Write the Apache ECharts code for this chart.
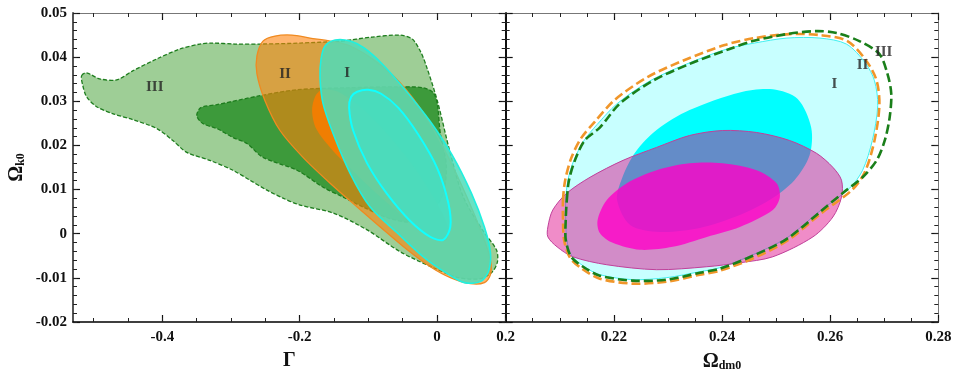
<!DOCTYPE html>
<html>
<head>
<meta charset="utf-8">
<script src="https://cdn.jsdelivr.net/npm/echarts@6/dist/echarts.min.js"></script>
<style>
  html, body { margin: 0; padding: 0; background: #fff; }
  #chart { width: 957px; height: 382px; }
</style>
</head>
<body>
<div id="chart"></div>
<script>
// ---- tick labels ----
var gammaLabels = [-0.4, -0.2, 0];
var omegaDmLabels = [0.2, 0.22, 0.24, 0.26, 0.28];
var omegaKLabels = [-0.02, -0.01, 0, 0.01, 0.02, 0.03, 0.04, 0.05];

// ---- left panel contours (Gamma, Omega_k0) ----
var left3Outer = [[-0.5175,0.03576],[-0.5102,0.03644],[-0.4913,0.03509],[-0.4664,0.03486],[-0.4431,0.03689],
  [-0.4081,0.03959],[-0.3745,0.04184],[-0.3453,0.04297],[-0.3278,0.04319],[-0.2943,0.04297],[-0.2549,0.04297],
  [-0.1994,0.04319],[-0.1411,0.04364],[-0.0944,0.04454],[-0.0535,0.04499],[-0.0360,0.04409],[-0.0244,0.04139],
  [-0.0156,0.03801],[0.0004,0.03013],[0.0194,0.01820],[0.0384,0.00829],[0.0661,0.00086],[0.0865,-0.00365],
  [0.0880,-0.00635],[0.0807,-0.00860],[0.0632,-0.01018],[0.0311,-0.00995],[-0.0054,-0.00770],[-0.0535,-0.00410],
  [-0.1017,0.00086],[-0.1513,0.00468],[-0.1994,0.00649],[-0.2243,0.00806],[-0.2476,0.00986],[-0.2724,0.01212],
  [-0.2972,0.01437],[-0.3308,0.01662],[-0.3643,0.01842],[-0.3847,0.02112],[-0.4081,0.02383],[-0.4431,0.02585],
  [-0.4723,0.02720],[-0.4956,0.02878],[-0.5102,0.03103],[-0.5160,0.03374]];
var left3Inner = [[-0.3497,0.02675],[-0.3439,0.02856],[-0.3205,0.02923],[-0.2578,0.03126],[-0.2038,0.03261],
  [-0.1309,0.03306],[-0.0579,0.03328],[-0.0200,0.03306],[-0.0054,0.03193],[0.0004,0.02946],[0.0048,0.02270],
  [0.0136,0.01549],[0.0092,0.00941],[-0.0069,0.00491],[-0.0360,0.00266],[-0.0711,0.00356],[-0.1075,0.00604],
  [-0.1367,0.00829],[-0.1659,0.01054],[-0.2038,0.01437],[-0.2534,0.01730],[-0.2768,0.02045],[-0.2972,0.02180],
  [-0.3205,0.02383],[-0.3410,0.02495]];
var left2Outer = [[-0.2534,0.04364],[-0.2359,0.04477],[-0.2111,0.04499],[-0.1849,0.04432],[-0.1557,0.04364],
  [-0.1265,0.04252],[-0.0900,0.03914],[-0.0535,0.03418],[-0.0171,0.02675],[0.0150,0.01775],[0.0442,0.00806],
  [0.0661,-0.00027],[0.0778,-0.00590],[0.0778,-0.00928],[0.0690,-0.01108],[0.0486,-0.01131],[0.0194,-0.00995],
  [-0.0098,-0.00748],[-0.0433,-0.00365],[-0.0827,0.00153],[-0.1163,0.00604],[-0.1557,0.01144],[-0.1951,0.01730],
  [-0.2286,0.02338],[-0.2505,0.03013],[-0.2622,0.03621],[-0.2622,0.04027]];
var left2Inner = [[-0.1674,0.03261],[-0.1411,0.03193],[-0.0973,0.02675],[-0.0463,0.01775],[-0.0069,0.00874],
  [0.0150,0.00198],[0.0136,-0.00140],[-0.0069,-0.00095],[-0.0463,0.00356],[-0.0900,0.00941],[-0.1265,0.01482],
  [-0.1557,0.01955],[-0.1761,0.02383],[-0.1819,0.02788],[-0.1776,0.03103]];
var left1Outer = [[-0.1630,0.04252],[-0.1484,0.04387],[-0.1265,0.04364],[-0.1061,0.04207],[-0.0798,0.03846],
  [-0.0477,0.03283],[-0.0098,0.02540],[0.0223,0.01775],[0.0500,0.00919],[0.0690,0.00153],[0.0778,-0.00432],
  [0.0748,-0.00860],[0.0632,-0.01085],[0.0398,-0.01108],[0.0150,-0.00905],[-0.0200,-0.00522],[-0.0579,0.00018],
  [-0.0973,0.00604],[-0.1265,0.01369],[-0.1513,0.02270],[-0.1659,0.02946],[-0.1703,0.03531],[-0.1688,0.03959]];
var left1Inner = [[-0.1163,0.03216],[-0.1002,0.03261],[-0.0813,0.03171],[-0.0565,0.02856],[-0.0273,0.02247],
  [0.0004,0.01482],[0.0165,0.00694],[0.0194,0.00153],[0.0092,-0.00140],[-0.0098,-0.00072],[-0.0390,0.00288],
  [-0.0725,0.00896],[-0.1017,0.01594],[-0.1221,0.02338],[-0.1280,0.02856],[-0.1250,0.03103]];

// ---- right panel contours (Omega_dm0, Omega_k0) ----
var right1Outer = [[0.2111,0.00761],[0.2115,0.01212],[0.2126,0.01662],[0.2145,0.02112],[0.2169,0.02473],
  [0.2206,0.02946],[0.2267,0.03464],[0.2335,0.03846],[0.2409,0.04184],[0.2460,0.04319],[0.2520,0.04432],
  [0.2581,0.04432],[0.2630,0.04297],[0.2665,0.03869],[0.2682,0.03464],[0.2688,0.02901],[0.2678,0.02112],
  [0.2660,0.01437],[0.2636,0.01031],[0.2581,0.00513],[0.2520,-0.00095],[0.2457,-0.00477],[0.2396,-0.00770],
  [0.2359,-0.00860],[0.2298,-0.00995],[0.2235,-0.01040],[0.2174,-0.00928],[0.2143,-0.00725],[0.2122,-0.00500],
  [0.2113,-0.00140],[0.2111,0.00311]];
var right1Inner = [[0.2206,0.00761],[0.2215,0.01250],[0.2240,0.01850],[0.2279,0.02350],[0.2340,0.02800],
  [0.2433,0.03200],[0.2494,0.03270],[0.2540,0.03050],[0.2565,0.02400],[0.2562,0.01775],[0.2534,0.01212],
  [0.2488,0.00761],[0.2433,0.00423],[0.2359,0.00131],[0.2285,0.00041],[0.2230,0.00198]];
var right2Outer = [[0.2106,0.00761],[0.2110,0.01212],[0.2121,0.01707],[0.2139,0.02157],[0.2165,0.02540],
  [0.2202,0.03036],[0.2263,0.03554],[0.2331,0.03936],[0.2405,0.04274],[0.2460,0.04432],[0.2525,0.04522],
  [0.2581,0.04499],[0.2632,0.04364],[0.2667,0.03914],[0.2686,0.03464],[0.2691,0.02901],[0.2682,0.02112],
  [0.2664,0.01392],[0.2640,0.00986],[0.2584,0.00468],[0.2523,-0.00140],[0.2460,-0.00545],[0.2396,-0.00838],
  [0.2359,-0.00928],[0.2298,-0.01085],[0.2235,-0.01131],[0.2174,-0.01018],[0.2141,-0.00793],[0.2119,-0.00545],
  [0.2108,-0.00140],[0.2106,0.00311]];
var right3Outer = [[0.2113,0.00761],[0.2117,0.01212],[0.2128,0.01662],[0.2146,0.02112],[0.2174,0.02405],
  [0.2211,0.02946],[0.2272,0.03464],[0.2340,0.03846],[0.2414,0.04184],[0.2457,0.04364],[0.2520,0.04522],
  [0.2575,0.04590],[0.2612,0.04545],[0.2654,0.04364],[0.2691,0.04072],[0.2706,0.03621],[0.2713,0.03171],
  [0.2710,0.02630],[0.2701,0.02112],[0.2686,0.01662],[0.2660,0.01279],[0.2623,0.00919],[0.2581,0.00491],
  [0.2520,-0.00117],[0.2457,-0.00500],[0.2396,-0.00793],[0.2359,-0.00883],[0.2298,-0.01040],[0.2235,-0.01063],
  [0.2174,-0.00950],[0.2143,-0.00748],[0.2121,-0.00522],[0.2111,-0.00140],[0.2111,0.00311]];
var rightPinkOuter = [[0.2078,0.00153],[0.2087,0.00536],[0.2113,0.00919],[0.2156,0.01279],[0.2217,0.01662],
  [0.2279,0.01955],[0.2340,0.02225],[0.2401,0.02338],[0.2464,0.02293],[0.2525,0.02112],[0.2575,0.01820],
  [0.2605,0.01504],[0.2621,0.01212],[0.2621,0.00829],[0.2605,0.00378],[0.2568,-0.00072],[0.2494,-0.00522],
  [0.2433,-0.00658],[0.2372,-0.00748],[0.2279,-0.00815],[0.2187,-0.00703],[0.2124,-0.00522],[0.2095,-0.00297],
  [0.2078,-0.00072]];
var rightPinkInner = [[0.2170,0.00311],[0.2187,0.00761],[0.2224,0.01144],[0.2279,0.01437],[0.2340,0.01594],
  [0.2401,0.01594],[0.2464,0.01437],[0.2501,0.01144],[0.2507,0.00829],[0.2494,0.00536],[0.2433,0.00153],
  [0.2372,-0.00072],[0.2309,-0.00297],[0.2248,-0.00365],[0.2198,-0.00207],[0.2174,0.00018]];

// region labels [x, y, text]
var leftTags = [[-0.411, 0.0331, 'III'], [-0.2213, 0.0362, 'II'], [-0.1309, 0.0364, 'I']];
var rightTags = [[0.2608, 0.0340, 'I'], [0.2660, 0.0382, 'II'], [0.2699, 0.0412, 'III']];

var FONT = 'Liberation Serif';
var AX = '#333';

function steps(a, b, d) {
  var out = [];
  var n = Math.round((b - a) / d);
  for (var i = 0; i <= n; i++) out.push(+(a + i * d).toFixed(4));
  return out;
}
function fmt(v) { return String(+(+v).toFixed(3)); }

// one frame side: major ticks (optionally labelled) + a minor tick overlay
function side(grid, pos, min, max, major, minor, opts) {
  opts = opts || {};
  var base = {
    gridIndex: grid, position: pos, type: 'value', min: min, max: max,
    splitLine: { show: false }
  };
  var a = Object.assign({}, base, {
    axisLine: { show: true, onZero: false, lineStyle: { color: opts.lineColor || AX, width: opts.lineWidth || 1.5 } },
    axisTick: { show: true, inside: true, length: 7, customValues: major, lineStyle: { color: '#111', width: 1.2 } },
    axisLabel: opts.labels ? {
      show: true, customValues: major, formatter: fmt, margin: opts.margin || 8,
      fontFamily: FONT, fontWeight: 'bold', fontSize: 15, color: '#111'
    } : { show: false }
  });
  if (opts.name) {
    a.name = opts.name;
    a.nameLocation = 'middle';
    a.nameGap = opts.nameGap;
    a.nameRotate = opts.nameRotate;
    a.nameTextStyle = opts.nameTextStyle;
  }
  var b = Object.assign({}, base, {
    axisLine: { show: false, onZero: false },
    axisTick: { show: true, inside: true, length: 4, customValues: minor, lineStyle: { color: '#222', width: 1 } },
    axisLabel: { show: false }
  });
  return [a, b];
}

var omegaRich = {
  o: { fontFamily: FONT, fontWeight: 'bold', fontSize: 20, color: '#111' },
  s: { fontFamily: FONT, fontWeight: 'bold', fontSize: 12, color: '#111', padding: [9, 0, 0, 0] }
};

var gammaMinor = steps(-0.5, 0.1, 0.05);
var dmMinor = steps(0.2, 0.28, 0.005);
var kMinor = steps(-0.02, 0.05, 0.002);

var xAxes = [].concat(
  side(0, 'bottom', -0.53, 0.1, gammaLabels, gammaMinor, {
    labels: true, lineColor: '#000', name: 'Γ', nameGap: 29,
    nameTextStyle: { fontFamily: FONT, fontWeight: 'bold', fontSize: 20, color: '#111' }
  }),
  side(0, 'top', -0.53, 0.1, gammaLabels, gammaMinor, { lineColor: '#777', lineWidth: 1 }),
  side(1, 'bottom', 0.2, 0.28, omegaDmLabels, dmMinor, {
    labels: true, lineColor: '#000', name: '{o|Ω}{s|dm0}', nameGap: 29,
    nameTextStyle: { rich: omegaRich }
  }),
  side(1, 'top', 0.2, 0.28, omegaDmLabels, dmMinor, { lineColor: '#777', lineWidth: 1 })
);
var yAxes = [].concat(
  side(0, 'left', -0.02, 0.05, omegaKLabels, kMinor, {
    labels: true, lineColor: '#555', lineWidth: 2, margin: 6, name: '{o|Ω}{s|k0}', nameGap: 46, nameRotate: 90,
    nameTextStyle: { rich: omegaRich }
  }),
  side(0, 'right', -0.02, 0.05, omegaKLabels, kMinor, { lineColor: '#000' }),
  side(1, 'left', -0.02, 0.05, omegaKLabels, kMinor, { lineColor: '#000' }),
  side(1, 'right', -0.02, 0.05, omegaKLabels, kMinor, { lineColor: '#777', lineWidth: 1 })
);

function region(panel, pts, style, z) {
  var ax = panel === 0 ? 0 : 4;
  return {
    type: 'custom', xAxisIndex: ax, yAxisIndex: ax, data: pts, clip: true, silent: true, z: z || 2,
    renderItem: function (params, api) {
      if (params.dataIndex !== 0) return;
      var points = pts.map(function (p) { return api.coord(p); });
      return { type: 'polygon', shape: { points: points, smooth: 0.3 }, style: style };
    }
  };
}
function tags(panel, list) {
  var ax = panel === 0 ? 0 : 4;
  return {
    type: 'scatter', xAxisIndex: ax, yAxisIndex: ax, data: list, symbolSize: 1, z: 10, silent: true,
    itemStyle: { color: 'rgba(0,0,0,0)' },
    label: {
      show: true, position: 'inside', formatter: function (p) { return p.data[2]; },
      fontFamily: FONT, fontWeight: 'bold', fontSize: 15, color: '#222'
    }
  };
}

var greenDash = { lineWidth: 1.3, stroke: '#1e7d1e', lineDash: [4, 2] };

var series = [
  region(0, left3Outer, Object.assign({ fill: 'rgba(106,180,94,0.65)' }, greenDash), 2),
  region(0, left3Inner, Object.assign({ fill: 'rgba(20,133,20,0.7)' }, greenDash), 3),
  region(0, left2Outer, { fill: 'rgba(255,129,9,0.59)', stroke: '#f08a20', lineWidth: 1.3 }, 4),
  region(0, left2Inner, { fill: 'rgba(245,125,0,0.92)', stroke: 'none' }, 5),
  region(0, left1Outer, { fill: 'rgba(80,220,185,0.85)', stroke: '#20f0e0', lineWidth: 1.6 }, 6),
  region(0, left1Inner, { fill: 'rgba(64,225,200,0.7)', stroke: '#10ffff', lineWidth: 2 }, 7),
  tags(0, leftTags),

  region(1, right1Outer, { fill: '#c8ffff', stroke: '#40f0f0', lineWidth: 1 }, 2),
  region(1, right1Inner, { fill: '#00ffff', stroke: 'none' }, 3),
  region(1, rightPinkOuter, { fill: 'rgba(222,0,133,0.45)', stroke: '#c0409a', lineWidth: 1 }, 4),
  region(1, rightPinkInner, { fill: 'rgba(255,0,200,0.8)', stroke: 'none' }, 5),
  region(1, right2Outer, { fill: 'none', stroke: '#f0962a', lineWidth: 2.6, lineDash: [9, 4] }, 6),
  region(1, right3Outer, { fill: 'none', stroke: '#1a7f1a', lineWidth: 2.6, lineDash: [9, 4] }, 7),
  tags(1, rightTags)
];

var chart = echarts.init(document.getElementById('chart'), null, { renderer: 'canvas' });
chart.setOption({
  animation: false,
  backgroundColor: '#fff',
  grid: [
    { left: 73, top: 13, width: 432.7, height: 309 },
    { left: 505.7, top: 13, width: 432.6, height: 309 }
  ],
  xAxis: xAxes,
  yAxis: yAxes,
  series: series
});
</script>
</body>
</html>
